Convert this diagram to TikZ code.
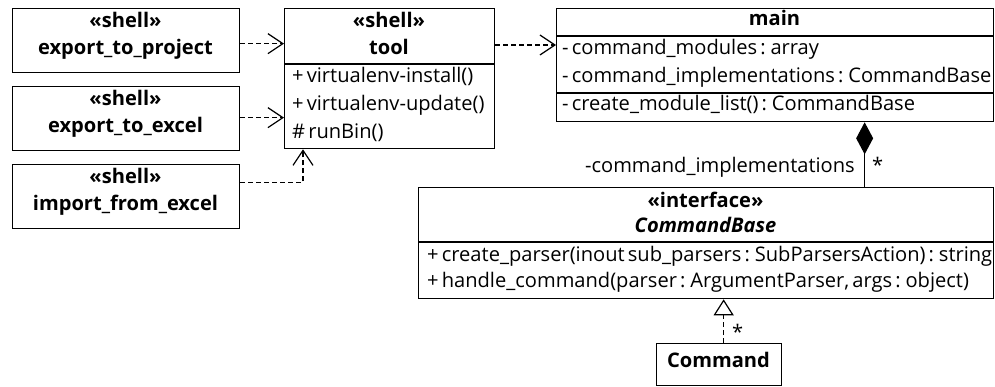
\documentclass[tikz,border=0pt]{standalone}
\usepackage{fontspec}
\setmainfont{Open Sans}[WordSpace=0.6]
\usetikzlibrary{arrows.meta}
\newcommand\umlsize{\fontsize{20.1}{24}\selectfont}
\begin{document}
\begin{tikzpicture}[x=1pt,y=-1pt,
  umlbox/.style={draw, line width=1.3pt, inner sep=0pt, anchor=north west},
  divider/.style={line width=1.3pt},
  title/.style={inner sep=0pt, anchor=mid, font=\umlsize\bfseries},
  member/.style={inner sep=0pt, anchor=mid west, font=\umlsize},
  dep/.style={line width=1.2pt, dash pattern=on 5pt off 3pt,
    -{Straight Barb[length=15pt,width=20pt,line width=1.2pt]}},
  comp/.style={line width=1.2pt, -{Diamond[length=32pt,width=17pt]}},
  realize/.style={line width=1.2pt, dash pattern=on 5pt off 3pt,
    -{Triangle[open,length=16pt,width=20pt,line width=1.2pt]}}]
\useasboundingbox (0,0) rectangle (995,387);

% shell scripts
\node[umlbox, minimum width=227pt, minimum height=64pt] (ep) at (12,8) {};
\node[title] (ep1) at (125.5,24.5) {«shell»};
\node[title] (ep2) at (125.5,51.5) {export\_to\_project};

\node[umlbox, minimum width=227pt, minimum height=64pt] (ee) at (12,86) {};
\node[title] (ee1) at (125.5,102.5) {«shell»};
\node[title] (ee2) at (125.5,129.5) {export\_to\_excel};

\node[umlbox, minimum width=227pt, minimum height=64pt] (ie) at (12,164) {};
\node[title] (ie1) at (125.5,180.5) {«shell»};
\node[title] (ie2) at (125.5,207.5) {import\_from\_excel};

% tool
\node[umlbox, minimum width=210pt, minimum height=140pt] (tool) at (284,8) {};
\node[title] (tool1) at (389,24.5) {«shell»};
\node[title] (tool2) at (389,51.5) {tool};
\draw[divider] ([yshift=-56pt]tool.north west) -- ([yshift=-56pt]tool.north east);
\node[member] (tm1) at (292,80) {+ virtualenv-install()};
\node[member] (tm2) at (292,107.5) {+ virtualenv-update()};
\node[member] (tm3) at (292,135.5) {\# runBin()};

% main
\node[umlbox, minimum width=437pt, minimum height=113pt] (main) at (556,8) {};
\node[title] (main1) at (774.5,23) {main};
\draw[divider] ([yshift=-28pt]main.north west) -- ([yshift=-28pt]main.north east);
\node[member] (mm1) at (562,52) {- command\_modules : array};
\node[member] (mm2) at (562,80) {- command\_implementations : CommandBase};
\draw[divider] ([yshift=-85pt]main.north west) -- ([yshift=-85pt]main.north east);
\node[member] (mm3) at (562,107.5) {- create\_module\_list() : CommandBase};

% CommandBase
\node[umlbox, minimum width=575pt, minimum height=111pt] (cb) at (418,187) {};
\node[title] (cb1) at (705.5,205) {«interface»};
\node[title, font=\umlsize\bfseries\itshape] (cb2) at (705.5,230) {CommandBase};
\draw[divider] ([yshift=-55pt]cb.north west) -- ([yshift=-55pt]cb.north east);
\node[member] (cm1) at (427,259) {+ create\_parser(inout sub\_parsers : SubParsersAction) : string};
\node[member] (cm2) at (427,285) {+ handle\_command(parser : ArgumentParser, args : object)};

% Command
\node[umlbox, minimum width=125pt, minimum height=42pt] (cmd) at (656,343) {};
\node[title] (cmd1) at (718.5,364.5) {Command};

% dependencies
\draw[dep] ([yshift=-3pt]ep.east) -- ([yshift=-3pt]ep.east -| tool.west);
\draw[dep] ([yshift=1pt]ee.east) -- ([yshift=1pt]ee.east -| tool.west);
\coordinate (tb) at ([xshift=19pt]tool.south west);
\draw[dep] ([yshift=14pt]ie.east) -| (tb);
\draw[dep] ([yshift=-37pt]tool.north east) -- ([yshift=-37pt]tool.north east -| main.west);

% composition
\coordinate (cj) at ([xshift=89.5pt]main.south);
\draw[comp] (cj |- cb.north) -- (cj);
\node[member, anchor=mid east] (role) at (855,170) {-command\_implementations};
\node[member] (mult1) at (872,170) {*};

% realization
\coordinate (ct) at ([xshift=4.5pt]cmd.north);
\draw[realize] (ct) -- (ct |- cb.south);
\node[member] (mult2) at (732,337) {*};
\end{tikzpicture}
\end{document}
